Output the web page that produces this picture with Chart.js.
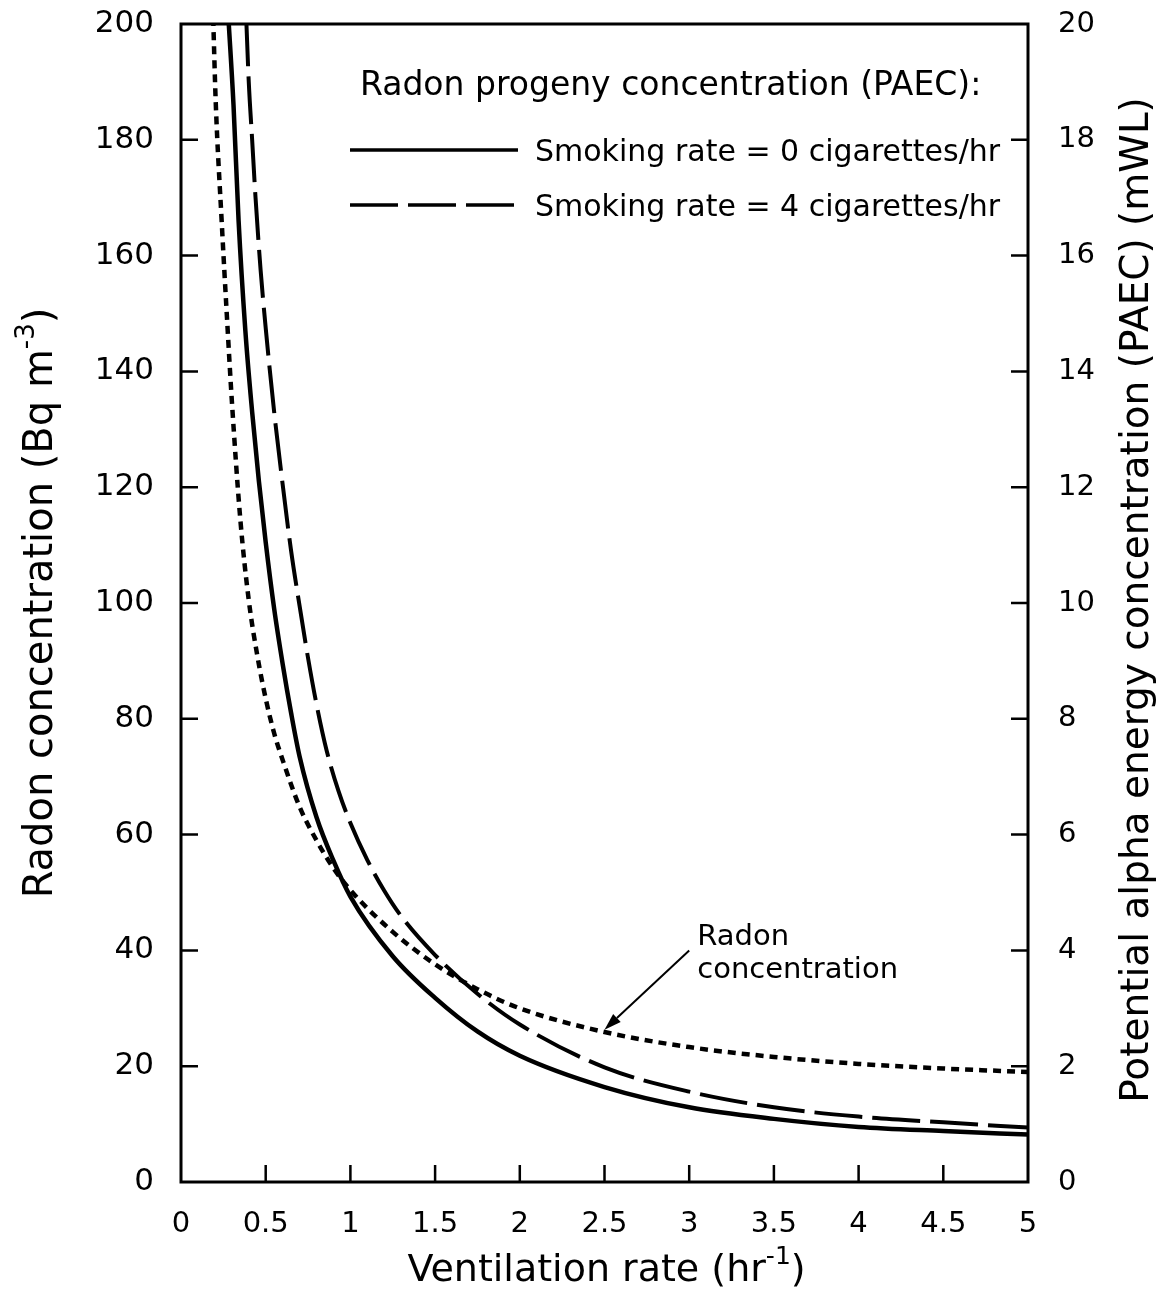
<!DOCTYPE html>
<html>
<head>
<meta charset="utf-8">
<script src="https://cdn.jsdelivr.net/npm/chart.js@4.4.1/dist/chart.umd.min.js"></script>
<style>
html,body{margin:0;padding:0;background:#fff;}
canvas{display:block;}
</style>
</head>
<body>
<canvas id="c" width="1162" height="1289"></canvas>
<script>
// ---- data ----
const vent0 = [0.28,0.31,0.34,0.38,0.42,0.46,0.5,0.55,0.6,0.65,0.7,0.8,0.9,1.0,1.25,1.5,1.75,2.0,2.5,3.0,3.5,4.0,4.5,5.0];
const paec0 = [201,186,166,147,133,121,110.5,99,89.5,81,73.5,63,55.5,49.3,39,31.8,26,21.8,16.4,12.9,10.9,9.5,8.8,8.2];

const vent4 = [0.385,0.40,0.42,0.44,0.47,0.5,0.55,0.6,0.65,0.7,0.75,0.8,0.86,0.93,1.0,1.1,1.2,1.3,1.5,1.75,2.0,2.5,3.0,3.5,4.0,4.5,5.0];
const paec4 = [201,190,180,170,157.5,147.5,133,120.5,109,99.5,90.5,82.5,74.5,67.5,62,55.6,50.3,45.9,39.2,32.5,27.2,19.8,15.6,12.9,11.3,10.3,9.4];

const ventRn = [0.19,0.205,0.24,0.27,0.3,0.35,0.4,0.45,0.5,0.55,0.6,0.7,0.8,0.9,1.0,1.25,1.5,1.75,2.0,2.5,3.0,3.5,4.0,4.5,5.0];
const radon  = [201,186.5,166,150,135,114.5,100.5,91,83.5,77.5,72.9,64.8,59,54.2,50.4,43.2,37.6,33.3,30,25.9,23.3,21.6,20.4,19.6,19.0];

const xTickLabels  = ['0','0.5','1','1.5','2','2.5','3','3.5','4','4.5','5'];
const yTickLabels  = ['0','20','40','60','80','100','120','140','160','180','200'];
const y2TickLabels = ['0','2','4','6','8','10','12','14','16','18','20'];

const seriesNames = ['Smoking rate = 0 cigarettes/hr','Smoking rate = 4 cigarettes/hr','Radon concentration'];
const legendTitle = 'Radon progeny concentration (PAEC):';
const annotationLines = ['Radon','concentration'];
const annotationTail = {x:3.0, y:40};
const annotationTip  = {x:2.5, y:26.3};

// ---- helpers ----
const FONT = '"DejaVu Sans", "Liberation Sans", sans-serif';
const pts = (xs, ys) => xs.map((x,i)=>({x, y:ys[i]}));

function drawRich(ctx, parts, cx, cy, rot){
  ctx.save();
  ctx.translate(cx, cy);
  if (rot) ctx.rotate(rot);
  ctx.textBaseline = 'alphabetic';
  ctx.textAlign = 'left';
  let total = 0;
  parts.forEach(p=>{ ctx.font = p.size+'px '+FONT; p.w = ctx.measureText(p.t).width; total += p.w; });
  let x = -total/2;
  parts.forEach(p=>{ ctx.font = p.size+'px '+FONT; ctx.fillText(p.t, x, p.dy||0); x += p.w; });
  ctx.restore();
}

const decorations = {
  id: 'decorations',
  afterDatasetsDraw(chart){
    const {ctx, chartArea:a, scales} = chart;
    const sx = scales.x, sy = scales.y, sy2 = scales.y2;
    ctx.save();
    ctx.strokeStyle = '#000';
    ctx.fillStyle = '#000';
    // inward tick marks
    const L = 17;
    ctx.lineWidth = 2.5;
    ctx.beginPath();
    sx.ticks.forEach(t=>{
      if (t.value <= sx.min || t.value >= sx.max) return;
      const p = sx.getPixelForValue(t.value);
      ctx.moveTo(p, a.bottom); ctx.lineTo(p, a.bottom - L);
    });
    sy.ticks.forEach(t=>{
      if (t.value <= sy.min || t.value >= sy.max) return;
      const p = sy.getPixelForValue(t.value);
      ctx.moveTo(a.left, p); ctx.lineTo(a.left + L, p);
    });
    sy2.ticks.forEach(t=>{
      if (t.value <= sy2.min || t.value >= sy2.max) return;
      const p = sy2.getPixelForValue(t.value);
      ctx.moveTo(a.right, p); ctx.lineTo(a.right - L, p);
    });
    ctx.stroke();
    // frame
    ctx.lineWidth = 3;
    ctx.strokeRect(a.left, a.top, a.right - a.left, a.bottom - a.top);

    // legend
    const ds = chart.data.datasets;
    ctx.font = '33px ' + FONT;
    ctx.textBaseline = 'alphabetic';
    ctx.textAlign = 'left';
    ctx.fillText(legendTitle, a.left + 179, a.top + 71);
    [0,1].forEach((i,k)=>{
      const yy = a.top + 126 + k*55;
      ctx.save();
      ctx.lineWidth = 3.5;
      ctx.setLineDash(ds[i].borderDash || []);
      ctx.lineDashOffset = 0;
      ctx.beginPath();
      ctx.moveTo(a.left + 169, yy); ctx.lineTo(a.left + 337, yy);
      ctx.stroke();
      ctx.restore();
      ctx.font = '30px ' + FONT;
      ctx.fillText(ds[i].label, a.left + 354, yy + 11);
    });

    // annotation with arrow
    const tx = sx.getPixelForValue(annotationTail.x), ty = sy.getPixelForValue(annotationTail.y);
    const hx = sx.getPixelForValue(annotationTip.x),  hy = sy.getPixelForValue(annotationTip.y);
    ctx.font = '29px ' + FONT;
    ctx.fillText(annotationLines[0], tx + 8, ty - 5);
    ctx.fillText(annotationLines[1], tx + 8, ty + 28);
    const ang = Math.atan2(hy - ty, hx - tx);
    const hl = 17, hw = 5.5;
    const bx = hx - hl*Math.cos(ang), by = hy - hl*Math.sin(ang);
    ctx.lineWidth = 2;
    ctx.beginPath(); ctx.moveTo(tx, ty); ctx.lineTo(bx, by); ctx.stroke();
    ctx.beginPath();
    ctx.moveTo(hx, hy);
    ctx.lineTo(bx + hw*Math.sin(ang), by - hw*Math.cos(ang));
    ctx.lineTo(bx - hw*Math.sin(ang), by + hw*Math.cos(ang));
    ctx.closePath(); ctx.fill();

    // axis titles
    const midX = (a.left + a.right)/2, midY = (a.top + a.bottom)/2;
    drawRich(ctx, [
      {t:'Ventilation rate (hr', size:38},
      {t:'-1', size:25, dy:-17},
      {t:')', size:38}
    ], midX + 2, chart.height - 8, 0);
    drawRich(ctx, [
      {t:'Radon concentration (Bq m', size:40},
      {t:'-3', size:26, dy:-18},
      {t:')', size:40}
    ], 52, midY, -Math.PI/2);
    drawRich(ctx, [
      {t:'Potential alpha energy concentration (PAEC) (mWL)', size:39}
    ], 1148, midY - 3, -Math.PI/2);
    ctx.restore();
  }
};

const tickFont = size => ({family: FONT, size: size});
const noPadY = s => { s.paddingTop = 0; s.paddingBottom = 0; };

new Chart(document.getElementById('c'), {
  type: 'line',
  data: {
    datasets: [
      {label: seriesNames[0], data: pts(vent0, paec0), borderColor:'#000', borderWidth:4.5,
       pointRadius:0, cubicInterpolationMode:'monotone', fill:false, yAxisID:'y'},
      {label: seriesNames[1], data: pts(vent4, paec4), borderColor:'#000', borderWidth:4,
       borderDash:[48,10], pointRadius:0, cubicInterpolationMode:'monotone', fill:false, yAxisID:'y'},
      {label: seriesNames[2], data: pts(ventRn, radon), borderColor:'#000', borderWidth:4.5,
       borderDash:[8,6], pointRadius:0, cubicInterpolationMode:'monotone', fill:false, yAxisID:'y'}
    ]
  },
  options: {
    responsive: false,
    animation: false,
    devicePixelRatio: 1,
    layout: {padding: {top: 24, left: 0, right: 0, bottom: 0}},
    plugins: {legend: {display:false}, tooltip: {enabled:false}, title:{display:false}},
    scales: {
      x: {
        type: 'linear', position: 'bottom', min: 0, max: 5,
        grid: {display:false, drawTicks:false},
        border: {display:false},
        ticks: {stepSize: 0.5, color:'#000', font: tickFont(29), padding: 25,
                maxRotation:0, autoSkip:false,
                callback: (v, i) => xTickLabels[i]},
        afterFit: s => { s.height = 107; s.paddingLeft = 0; s.paddingRight = 0; }
      },
      y: {
        type: 'linear', position: 'left', min: 0, max: 200,
        grid: {display:false, drawTicks:false},
        border: {display:false},
        ticks: {stepSize: 20, color:'#000', font: tickFont(31), padding: 27,
                callback: (v, i) => yTickLabels[i]},
        afterFit: s => { s.width = 181; noPadY(s); }
      },
      y2: {
        type: 'linear', position: 'right', min: 0, max: 20,
        grid: {display:false, drawTicks:false},
        border: {display:false},
        ticks: {stepSize: 2, color:'#000', font: tickFont(29), padding: 30,
                callback: (v, i) => y2TickLabels[i]},
        afterFit: s => { s.width = 134; noPadY(s); }
      }
    }
  },
  plugins: [decorations]
});
</script>
</body>
</html>
